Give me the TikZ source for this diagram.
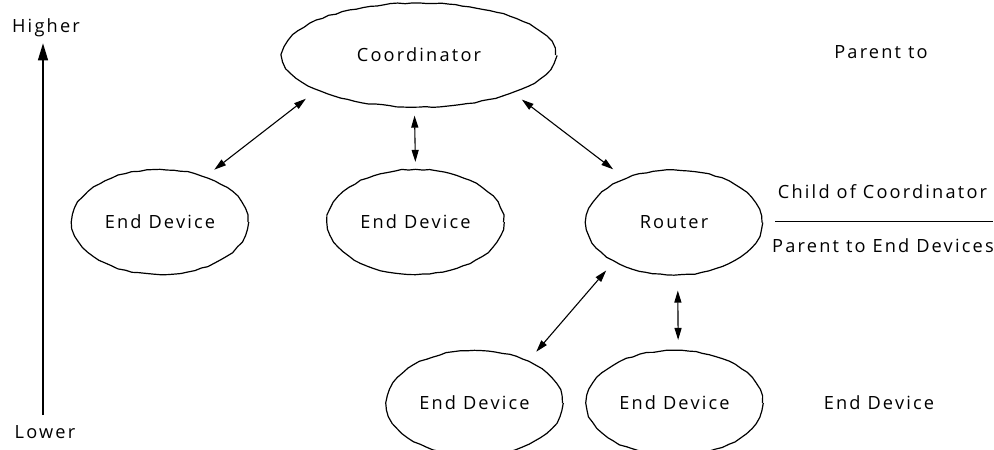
\documentclass[tikz,border=0pt]{standalone}
\usepackage{fontspec}
\setmainfont{Open Sans}[LetterSpace=12]
\usetikzlibrary{arrows.meta,shapes.geometric,decorations.pathmorphing}
\tikzset{
 dev/.style={ellipse,draw,line width=1.2pt,minimum width=176pt,minimum height=105pt,inner sep=0pt,
  decoration={random steps,segment length=7pt,amplitude=0.6pt},decorate},
 link/.style={line width=1.1pt,{Triangle[length=12pt,width=7pt]}-{Triangle[length=12pt,width=7pt]}},
 lbl/.style={inner sep=0pt}
}
\begin{document}
\begin{tikzpicture}[x=1pt,y=-1pt,font=\fontsize{18.2}{21}\selectfont]
\useasboundingbox (0,0) rectangle (994,450);
\pgfmathsetseed{7}
\node[dev,minimum width=273pt,minimum height=104pt] (coord) at (419,55) {Coordinator};
\node[dev] (ed1) at (160,222) {End Device};
\node[dev] (ed2) at (415.5,222) {End Device};
\node[dev] (router) at (674,222.5) {Router};
\node[dev] (ed3) at (474.5,403) {End Device};
\node[dev] (ed4) at (674.5,403) {End Device};

\draw[link,shorten <=14pt,shorten >=11pt] (coord.199.5) -- (ed1.45.9);
\draw[link,shorten <=8pt,shorten >=7pt] (coord.265.6) -- (ed2.north);
\draw[link,shorten <=10.6pt,shorten >=14.8pt] (coord.338.4) -- (router.138.6);
\draw[link,shorten <=11.8pt,shorten >=12pt] (router.213) -- (ed3.38.8);
\draw[link,shorten <=15pt,shorten >=10pt] (router.274.4) -- (ed4.86.2);

\node[lbl] (higher) at (46,28) {Higher};
\node[lbl] (lower) at (45,432) {Lower};
\draw[line width=1.3pt,-{Triangle[length=17pt,width=10pt]},shorten <=10pt,shorten >=6pt] (lower.north-|43,0) -- (higher.south-|43,0);

\node[lbl] (par) at (881,52) {Parent to};
\node[lbl] (child) at (882.5,192) {Child of Coordinator};
\node[lbl] (parent) at (883,246) {Parent to End Devices};
\node[lbl] (edlbl) at (879,403) {End Device};
\coordinate (sepL) at (775,221.5);
\coordinate (sepR) at (993,221.5);
\draw[line width=0.8pt] (sepL) -- (sepR);
\end{tikzpicture}
\end{document}
